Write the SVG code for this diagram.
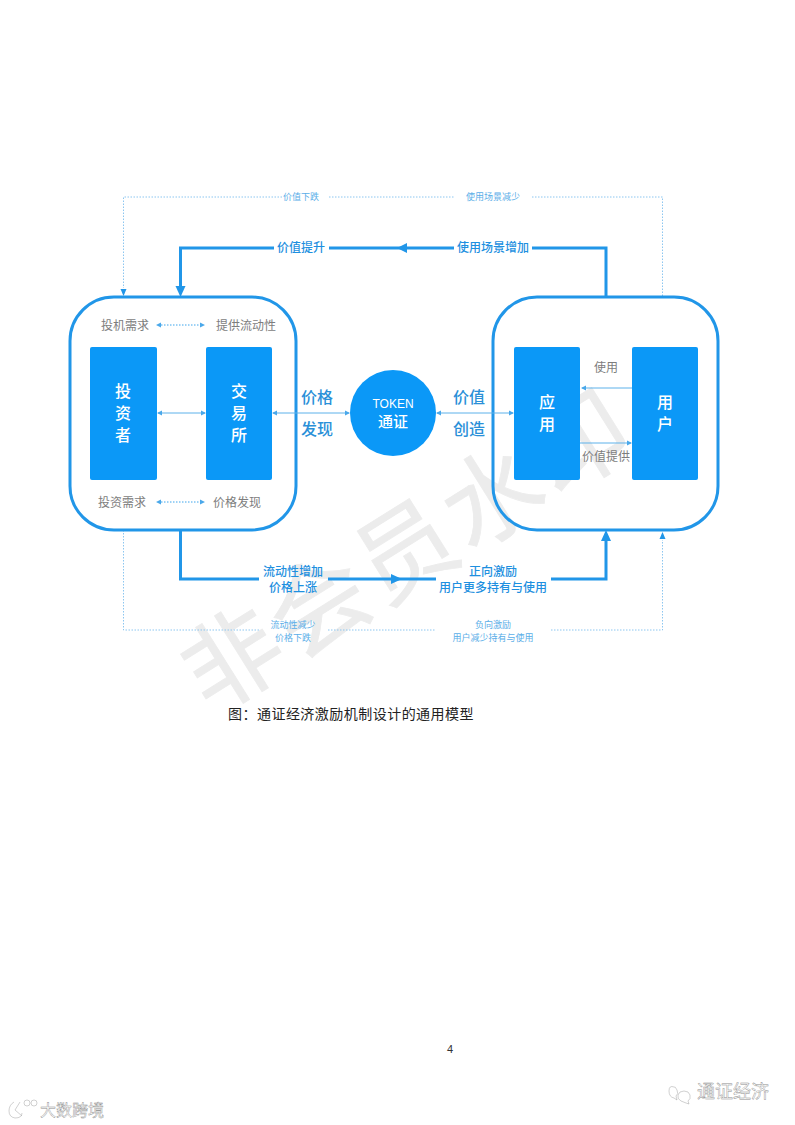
<svg xmlns="http://www.w3.org/2000/svg" width="795" height="1125" viewBox="0 0 795 1125">
<style>
text{font-family:"Noto Sans CJK SC","Liberation Sans",sans-serif;text-anchor:middle}
.box{fill:none;stroke:#2196e8;stroke-width:3}
.blk{fill:#0b98f7}
.w{fill:#fff;font-size:16px;font-weight:500}
.g{fill:#7d7d7d;font-size:12px}
.b{fill:#1e90e0;font-size:12px;font-weight:500}
.big{fill:#2a90d8;font-size:16px;font-weight:500}
.f{fill:#5aaee8;font-size:9px}
.th{fill:none;stroke:#2196e8;stroke-width:3}
.dot{fill:none;stroke:#8cc6f0;stroke-width:1;stroke-dasharray:1.5 1.5}
.dd{fill:none;stroke:#3da5ec;stroke-width:1;stroke-dasharray:1.5 1.5}
.ln{fill:none;stroke:#5cb1ea;stroke-width:1}
.tri{fill:#2196e8}
.sm{fill:#4aa8ea}
.lg{fill:#fff;stroke:#8c8c8c;stroke-width:.4}
.wm{fill:#ececec;stroke:#ececec;stroke-width:.8;font-size:98px;letter-spacing:4px}
</style>
<rect width="795" height="1125" fill="#fff"/>
<g id="watermark">
<text class="wm" transform="translate(426,580) rotate(-32)">非会员水印</text>
</g>
<g id="connectors">
<path class="dot" d="M282 197H123.500V288"/>
<path class="dot" d="M329 197H454"/>
<path class="dot" d="M532 197H662.500V297"/>
<path class="tri" d="M123.500 296l-3-7h6z"/>
<path class="th" d="M274 248H180.500V287"/>
<path class="tri" d="M180.500 297l-5-11h10z"/>
<path class="th" d="M329 248H454"/>
<path class="tri" d="M397 248l10-5v10z"/>
<path class="th" d="M532 248H606V297"/>
<path class="th" d="M180.500 530V579H259"/>
<path class="th" d="M328 579H436"/>
<path class="tri" d="M402 579l-11-5v10z"/>
<path class="th" d="M551 579H606V540"/>
<path class="tri" d="M606 530l-5 11h10z"/>
<path class="dot" d="M123.500 530V630H259"/>
<path class="dot" d="M328 630H436"/>
<path class="dot" d="M551 630H662.500V540"/>
<path class="tri" d="M662.500 532l-3 7h6z"/>
</g>
<g id="investor-group"><rect class="box" x="70" y="297" width="226" height="233" rx="44"/></g>
<g id="app-group"><rect class="box" x="493" y="297" width="225" height="233" rx="44"/></g>
<g id="inner-connectors">
<path class="dd" d="M158 325H203"/><path class="sm" d="M156 325l5-2.500v5zM205 325l-5-2.500v5z"/>
<path class="dd" d="M158 502H203"/><path class="sm" d="M156 502l5-2.500v5zM205 502l-5-2.500v5z"/>
<path class="ln" d="M158 413H205"/><path class="sm" d="M157 413l5-2.500v5zM206 413l-5-2.500v5z"/>
<path class="ln" d="M273 413H349"/><path class="sm" d="M272 413l5-2.500v5zM350 413l-5-2.500v5z"/>
<path class="ln" d="M437 413H513"/><path class="sm" d="M436 413l5-2.500v5zM514 413l-5-2.500v5z"/>
<path class="ln" d="M582 388H632"/><path class="sm" d="M581 388l5-2.500v5z"/>
<path class="ln" d="M580 443H631"/><path class="sm" d="M632 443l-5-2.500v5z"/>
</g>
<g id="investor"><rect class="blk" x="90" y="347" width="67" height="133" rx="2"/>
<text class="w" x="123" y="397">投</text><text class="w" x="123" y="419">资</text><text class="w" x="123" y="441">者</text></g>
<g id="exchange"><rect class="blk" x="206" y="347" width="66" height="133" rx="2"/>
<text class="w" x="239" y="397">交</text><text class="w" x="239" y="419">易</text><text class="w" x="239" y="441">所</text></g>
<g id="token"><circle class="blk" cx="393" cy="413" r="43"/>
<text x="393" y="408" style="font-size:12px;font-family:'Liberation Sans',sans-serif" fill="#fff">TOKEN</text><text x="393" y="427" style="font-size:15px;font-weight:500" fill="#fff">通证</text></g>
<g id="app"><rect class="blk" x="514" y="347" width="66" height="133" rx="2"/>
<text class="w" x="547" y="408">应</text><text class="w" x="547" y="430">用</text></g>
<g id="user"><rect class="blk" x="632" y="347" width="66" height="133" rx="2"/>
<text class="w" x="665" y="408">用</text><text class="w" x="665" y="430">户</text></g>
<g id="labels">
<text class="g" x="125" y="330">投机需求</text><text class="g" x="246" y="330">提供流动性</text>
<text class="g" x="122" y="507">投资需求</text><text class="g" x="237" y="507">价格发现</text>
<text class="g" x="606" y="372">使用</text><text class="g" x="606" y="461">价值提供</text>
<text class="big" x="317" y="403">价格</text><text class="big" x="317" y="435">发现</text>
<text class="big" x="469" y="403">价值</text><text class="big" x="469" y="435">创造</text>
<text class="f" x="301" y="200">价值下跌</text><text class="f" x="493" y="200">使用场景减少</text>
<text class="b" x="301" y="252">价值提升</text><text class="b" x="493" y="252">使用场景增加</text>
<text class="b" x="293" y="576">流动性增加</text><text class="b" x="293" y="592">价格上涨</text>
<text class="b" x="493" y="576">正向激励</text><text class="b" x="493" y="592">用户更多持有与使用</text>
<text class="f" x="293" y="628">流动性减少</text><text class="f" x="293" y="641">价格下跌</text>
<text class="f" x="493" y="628">负向激励</text><text class="f" x="493" y="641">用户减少持有与使用</text>
<text x="351" y="719" fill="#222" style="font-size:14px;letter-spacing:.47px">图：通证经济激励机制设计的通用模型</text>
<text x="450" y="1053" fill="#333" style="font-size:11px;font-family:'Liberation Sans',sans-serif">4</text>
</g>
<g id="marks">
<text class="lg" x="733" y="1098" style="font-size:18px">通证经济</text>
<text class="lg" x="72" y="1116" style="font-size:16px">大数跨境</text>
<path class="lg" d="M674 1087q-5-2-5 4t5 7l3 2-1-4q3-2 1-6t-3-3zM684 1091q-5 0-6 4t3 6l5 2 3 1-1-3q3-2 2-6t-6-4z" fill="none"/>
<path class="lg" d="M14 1102q-5 3-5 9t6 7q7 0 7-5M20 1102l-5 8 7 6" fill="none" stroke-width="2"/>
<circle class="lg" cx="27" cy="1103" r="3"/><circle class="lg" cx="34" cy="1103" r="3"/>
</g>
</svg>
